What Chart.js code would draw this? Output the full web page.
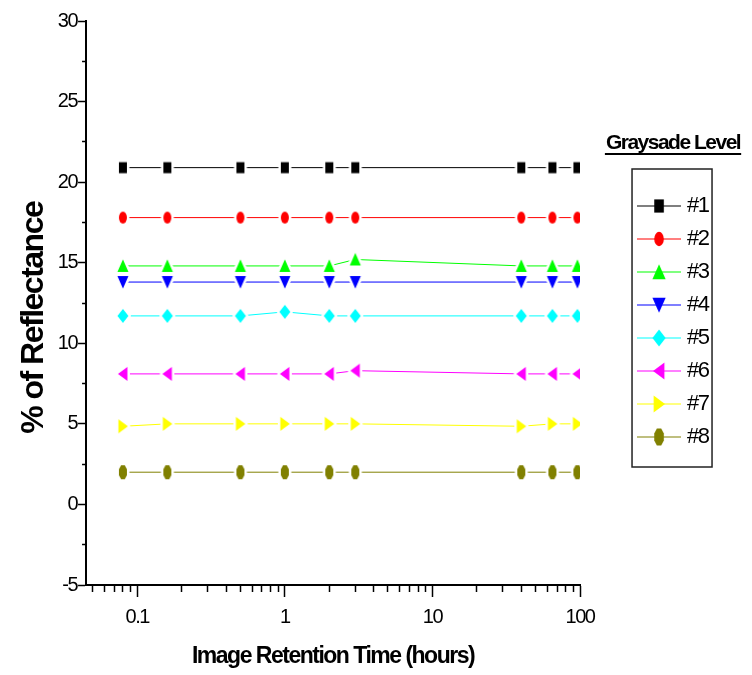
<!DOCTYPE html>
<html>
<head>
<meta charset="utf-8">
<script src="https://cdn.jsdelivr.net/npm/chart.js@4.4.1/dist/chart.umd.min.js"></script>
<style>
  html, body { margin: 0; padding: 0; background: #fff; }
  #wrap { width: 752px; height: 675px; }
</style>
</head>
<body>
<div id="wrap"><canvas id="c" width="752" height="675"></canvas></div>
<script>
// ---------- data ----------
const times = [0.08, 0.16, 0.5, 1, 2, 3, 40, 65, 96];
const seriesNames = ['#1', '#2', '#3', '#4', '#5', '#6', '#7', '#8'];
const level1 = [20.9, 20.9, 20.9, 20.9, 20.9, 20.9, 20.9, 20.9, 20.9];
const level2 = [17.8, 17.8, 17.8, 17.8, 17.8, 17.8, 17.8, 17.8, 17.8];
const level3 = [14.8, 14.8, 14.8, 14.8, 14.8, 15.2, 14.8, 14.8, 14.8];
const level4 = [13.8, 13.8, 13.8, 13.8, 13.8, 13.8, 13.8, 13.8, 13.8];
const level5 = [11.7, 11.7, 11.7, 11.95, 11.7, 11.7, 11.7, 11.7, 11.7];
const level6 = [8.1, 8.1, 8.1, 8.1, 8.1, 8.3, 8.1, 8.1, 8.1];
const level7 = [4.85, 5.0, 5.0, 5.0, 5.0, 5.0, 4.85, 5.0, 5.0];
const level8 = [2.0, 2.0, 2.0, 2.0, 2.0, 2.0, 2.0, 2.0, 2.0];
const xMajorTicks = [0.1, 1, 10, 100];
const xTickLabels = ['0.1', '1', '10', '100'];
const yTickStep = 2.5;
const yLabelStep = 5;
const legendTitle = 'Graysade Level';

// ---------- styles ----------
const colors = ['#000000', '#ff0000', '#00ff00', '#0000ff', '#00ffff', '#ff00ff', '#ffff00', '#808000'];
const shapes = ['square', 'ellipse', 'triUp', 'triDown', 'diamond', 'triLeft', 'triRight', 'hexagon'];
const allValues = [level1, level2, level3, level4, level5, level6, level7, level8];
const FONT = "'Liberation Sans', Arial, sans-serif";

function shapePath(ctx, shape, s) {
  ctx.beginPath();
  switch (shape) {
    case 'square': ctx.rect(-4 * s, -5.5 * s, 8 * s, 11 * s); break;
    case 'ellipse': ctx.ellipse(0, 0, 4 * s, 6 * s, 0, 0, Math.PI * 2); break;
    case 'triUp': ctx.moveTo(0, -6.5 * s); ctx.lineTo(5.5 * s, 6 * s); ctx.lineTo(-5.5 * s, 6 * s); ctx.closePath(); break;
    case 'triDown': ctx.moveTo(0, 6.5 * s); ctx.lineTo(5.5 * s, -6 * s); ctx.lineTo(-5.5 * s, -6 * s); ctx.closePath(); break;
    case 'diamond': ctx.moveTo(0, -7 * s); ctx.lineTo(5.5 * s, 0); ctx.lineTo(0, 7 * s); ctx.lineTo(-5.5 * s, 0); ctx.closePath(); break;
    case 'triLeft': ctx.moveTo(-5 * s, 0); ctx.lineTo(4.5 * s, -7 * s); ctx.lineTo(4.5 * s, 7 * s); ctx.closePath(); break;
    case 'triRight': ctx.moveTo(5 * s, 0); ctx.lineTo(-4.5 * s, -7 * s); ctx.lineTo(-4.5 * s, 7 * s); ctx.closePath(); break;
    case 'hexagon':
      ctx.moveTo(-1.8 * s, -7 * s); ctx.lineTo(1.8 * s, -7 * s); ctx.lineTo(4 * s, -3 * s); ctx.lineTo(4 * s, 3 * s);
      ctx.lineTo(1.8 * s, 7 * s); ctx.lineTo(-1.8 * s, 7 * s); ctx.lineTo(-4 * s, 3 * s); ctx.lineTo(-4 * s, -3 * s);
      ctx.closePath(); break;
  }
}

function markerImage(i) {
  const c = document.createElement('canvas');
  c.width = 20; c.height = 22;
  const ctx = c.getContext('2d');
  ctx.translate(10, 11);
  shapePath(ctx, shapes[i], 1);
  ctx.strokeStyle = '#ffffff';
  ctx.lineWidth = 5;
  ctx.lineJoin = 'round';
  ctx.stroke();
  ctx.fillStyle = colors[i];
  ctx.fill();
  return c;
}

function legendImage(i) {
  const c = document.createElement('canvas');
  c.width = 44; c.height = 22;
  const ctx = c.getContext('2d');
  ctx.strokeStyle = colors[i];
  ctx.lineWidth = 1.2;
  ctx.beginPath(); ctx.moveTo(0, 11); ctx.lineTo(44, 11); ctx.stroke();
  ctx.translate(22, 11);
  shapePath(ctx, shapes[i], 1.2);
  ctx.fillStyle = colors[i];
  ctx.fill();
  return c;
}

const markerImgs = colors.map((_, i) => markerImage(i));
const legendImgs = colors.map((_, i) => legendImage(i));

const datasets = allValues.map((vals, i) => ({
  label: seriesNames[i],
  data: times.map((t, k) => ({ x: t, y: vals[k] })),
  borderColor: colors[i],
  backgroundColor: colors[i],
  borderWidth: 1,
  pointStyle: markerImgs[i],
  pointRadius: 5,
  pointHoverRadius: 5,
  tension: 0,
  clip: 0
}));

// tick positions for log axis (minor at 2..9 x decade)
const xAllTicks = [];
for (let d = 0.01; d <= 10.0001; d *= 10) {
  for (let m = 1; m <= 9; m++) {
    const v = +(m * d).toPrecision(6);
    if (v >= 0.05 && v <= 100) xAllTicks.push(v);
  }
}
xAllTicks.push(100);

Chart.defaults.font.family = FONT;
Chart.defaults.color = '#000';

const spacingPlugin = {
  id: 'spacing',
  beforeUpdate(chart) { chart.ctx.letterSpacing = '-1.5px'; },
  beforeLayout(chart) { chart.ctx.letterSpacing = '-1.5px'; },
  beforeDraw(chart) { chart.ctx.letterSpacing = '-1.5px'; }
};

const legendDeco = {
  id: 'legendDeco',
  afterDraw(chart) {
    const lg = chart.legend;
    if (!lg || !lg.legendHitBoxes || !lg.legendHitBoxes.length) return;
    const hb = lg.legendHitBoxes;
    const first = hb[0], last = hb[hb.length - 1];
    const ctx = chart.ctx;
    ctx.save();
    ctx.strokeStyle = '#222';
    ctx.lineWidth = 1.5;
    const l = first.left - 10, t = first.top - 26, r = first.left + 70, b = last.top + 41;
    ctx.strokeRect(l, t, r - l, b - t);
    // legend heading with underline
    ctx.font = 'bold 21px ' + FONT;
    ctx.letterSpacing = '-1.5px';
    ctx.fillStyle = '#000';
    ctx.textAlign = 'center';
    ctx.textBaseline = 'middle';
    const cx = (l + r) / 2 + 1;
    ctx.fillText(legendTitle, cx, t - 26);
    const w = ctx.measureText(legendTitle).width;
    ctx.lineWidth = 2;
    ctx.strokeStyle = '#000';
    ctx.beginPath();
    ctx.moveTo(cx - w / 2 - 1, t - 15);
    ctx.lineTo(cx + w / 2 + 1, t - 15);
    ctx.stroke();
    ctx.restore();
  }
};

new Chart(document.getElementById('c'), {
  type: 'line',
  data: { datasets },
  plugins: [spacingPlugin, legendDeco],
  options: {
    responsive: false,
    animation: false,
    events: [],
    layout: { padding: { top: 21, left: 4, right: 33.5, bottom: 3 } },
    scales: {
      x: {
        type: 'logarithmic',
        position: 'bottom',
        min: 0.045,
        max: 100,
        border: { color: '#000', width: 2 },
        grid: {
          drawOnChartArea: false,
          tickLength: 12,
          tickWidth: 1.5,
          tickColor: '#000',
          tickBorderDash: (c) => (c.tick && xMajorTicks.includes(c.tick.value)) ? [] : [6, 40]
        },
        afterBuildTicks: (scale) => {
          scale.ticks = xAllTicks.map(v => ({ value: v, major: xMajorTicks.includes(v) }));
        },
        ticks: {
          autoSkip: false,
          maxRotation: 0,
          padding: 8,
          color: '#000',
          font: { size: 20 },
          callback: (v) => {
            const i = xMajorTicks.indexOf(v);
            return i >= 0 ? xTickLabels[i] : '';
          }
        },
        title: {
          display: true,
          text: 'Image Retention Time (hours)',
          color: '#000',
          font: { size: 23, weight: 'bold' },
          padding: { top: 5.4, bottom: 2 }
        }
      },
      y: {
        type: 'linear',
        position: 'left',
        min: -5,
        max: 30,
        border: { color: '#000', width: 2 },
        grid: {
          drawOnChartArea: false,
          tickLength: 8,
          tickWidth: 1.5,
          tickColor: '#000',
          tickBorderDash: (c) => (c.tick && c.tick.value % yLabelStep !== 0) ? [0, 4, 4, 40] : []
        },
        ticks: {
          stepSize: yTickStep,
          padding: 1,
          color: '#000',
          font: { size: 20 },
          callback: (v) => (v % yLabelStep === 0 ? String(v) : '')
        },
        title: {
          display: true,
          text: '% of Reflectance    ',
          color: '#000',
          font: { size: 32, weight: 'bold' },
          padding: { top: 11, bottom: 3.4 }
        }
      },
      gap: {
        type: 'linear',
        position: 'right',
        display: true,
        border: { display: false },
        grid: { display: false },
        ticks: { display: false },
        afterFit: (scale) => { scale.width = 51; }
      }
    },
    plugins: {
      tooltip: { enabled: false },
      legend: {
        position: 'right',
        align: 'start',
        title: {
          display: true,
          text: ' ',
          color: '#000',
          font: { size: 20, weight: 'bold' },
          padding: { top: 112, bottom: 27 }
        },
        labels: {
          usePointStyle: true,
          pointStyleWidth: 34,
          color: '#000',
          font: { size: 22 },
          padding: 11,
          generateLabels: (chart) => chart.data.datasets.map((ds, i) => ({
            text: ds.label,
            pointStyle: legendImgs[i],
            fillStyle: colors[i],
            strokeStyle: colors[i],
            lineWidth: 0,
            hidden: false,
            datasetIndex: i,
            fontColor: '#000'
          }))
        }
      }
    }
  }
});
</script>
</body>
</html>
